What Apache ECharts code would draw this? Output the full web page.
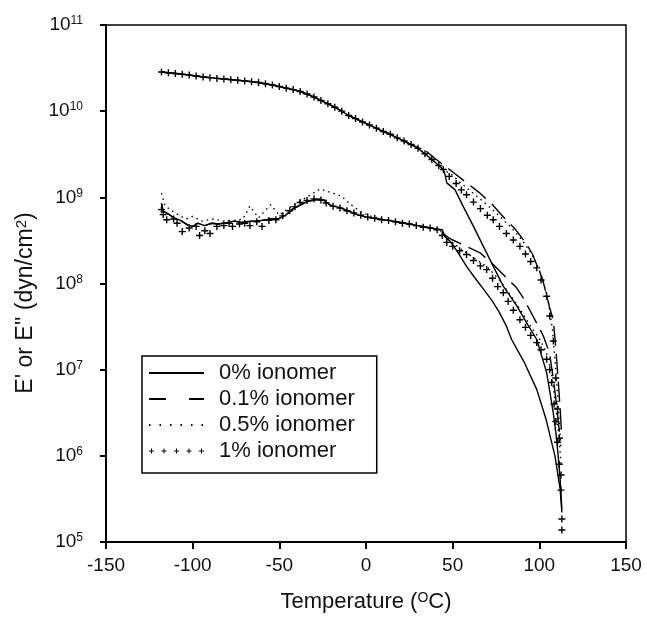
<!DOCTYPE html>
<html>
<head>
<meta charset="utf-8">
<script src="https://cdn.jsdelivr.net/npm/echarts@6/dist/echarts.min.js"></script>
<style>
  html, body { margin: 0; padding: 0; background: #fff; }
  #chart { width: 647px; height: 618px; }
</style>
</head>
<body>
<div id="chart"></div>
<script>
// storage modulus E' (shared part, all four samples overlap below ~45 C)
var storageCommon = [[-118,2.85e10],[-114,2.79e10],[-110,2.74e10],[-106,2.68e10],[-102,2.62e10],[-98,2.56e10],
    [-94,2.50e10],[-90,2.45e10],[-86,2.40e10],[-82,2.36e10],[-78,2.32e10],[-74,2.28e10],[-70,2.24e10],[-66,2.20e10],
    [-62,2.15e10],[-58,2.08e10],[-54,2.01e10],[-50,1.93e10],[-46,1.85e10],[-42,1.78e10],[-38,1.69e10],[-34,1.58e10],
    [-30,1.46e10],[-26,1.33e10],[-22,1.22e10],[-18,1.11e10],[-14,1.0e10],[-10,8.9e9],[-6,8.2e9],[-2,7.5e9],[2,6.9e9],
    [6,6.35e9],[10,5.8e9],[14,5.4e9],[18,4.9e9],[22,4.5e9],[26,4.1e9],[30,3.7e9],[34,3.2e9],[38,2.75e9],[42,2.34e9],[44.6,2.1e9]];

// E' above 45 C
var storageTail0 = [[45.6,1.83e9],[46.6,1.47e9],[51.3,1.23e9],[56,7.9e8],[62,4.6e8],[67.7,2.7e8],[73.4,1.59e8],
    [79.2,9.3e7],[87,5.5e7],[92.7,3.5e7],[98.5,2.24e7],[104.2,9.3e6],[108,3.2e6],[110,1.56e6],[112,5.4e5],[113,2.4e5]];
var storageTail01 = [[30,3.8e9],[35,3.4e9],[40,2.8e9],[45,2.35e9],[51,1.9e9],[57,1.53e9],[65,1.15e9],[73,8.2e8],
    [79,6.0e8],[86,4.3e8],[92,3.0e8],[96,2.2e8],[100,1.4e8],[102,1.1e8],[104,7.5e7],[106,5.2e7],[108,3.8e7],
    [109.5,1.8e7],[111,7e6],[112,3.5e6],[113,1.6e6]];
var storageTail05 = [[50,1.8e9],[55,1.45e9],[60,1.2e9],[66,9.5e8],[72,7.5e8],[78,5.8e8],[84,4.4e8],[90,3.2e8],
    [95,2.3e8],[99,1.6e8],[102,1.1e8],[105,6.5e7],[107.5,3e7],[109.5,1e7],[111,3.5e6],[112.5,1.2e6]];
var storageTail1 = [[48,1.75e9],[52,1.45e9],[55,1.22e9],[58,1.07e9],[62,8.8e8],[66,7.4e8],[70,6.2e8],[73.4,5.5e8],
    [77,4.6e8],[81,3.8e8],[85,3.2e8],[88.8,2.7e8],[92,2.2e8],[95,1.8e8],[98.5,1.52e8],[101,1.1e8],[104.2,7.1e7],
    [106,4.2e7],[108.1,2.15e7],[109.5,8e6],[110.5,3.5e6],[111.5,1.6e6],[112.5,6e5],[113,1.85e5],[113,1.38e5]];

// loss modulus E''
var loss0 = [[-118,8.5e8],[-117,6.9e8],[-114,6.4e8],[-111,5.8e8],[-107,5.4e8],[-103,4.8e8],[-100,4.6e8],[-97,5.0e8],
    [-93,4.7e8],[-89,5.0e8],[-85,4.9e8],[-80,5.1e8],[-76,5.3e8],[-72,5.1e8],[-66,5.3e8],[-60,5.4e8],[-55,5.6e8],
    [-50,5.7e8],[-46,6.3e8],[-42,7.4e8],[-38,8.1e8],[-34,8.9e8],[-30,9.3e8],[-27,9.5e8],[-24,9.2e8],[-21,8.2e8],
    [-19,7.9e8],[-15,7.6e8],[-10,6.9e8],[-5,6.3e8],[0,5.9e8],[5,5.7e8],[10,5.5e8],[15,5.3e8],[20,5.1e8],[25,4.9e8],
    [30,4.7e8],[35,4.5e8],[40,4.3e8],[44,4.2e8],[45.5,3.5e8],[48.5,3.1e8],[53,2.3e8],[58,1.58e8],[63,1.15e8],
    [68,8.5e7],[73,6.2e7],[77,4.6e7],[81,3.2e7],[84,2.24e7],[91,1.25e7],[98.5,5.9e6],[104,2.6e6],[109,1.0e6],
    [112,4.1e5],[113,2.2e5]];
var lossTail01 = [[45,3.7e8],[49.4,3.24e8],[57,2.75e8],[65.8,2.27e8],[73.4,1.66e8],[80,1.22e8],[86.9,8.9e7],
    [90.7,6.8e7],[95,4.7e7],[99.4,3.2e7],[102.3,2.46e7],[105.2,1.7e7],[106.1,1.44e7],[108,8e6],[110,3.8e6],[112,1.55e6]];
var loss05 = [[-118,1.12e9],[-116,8.0e8],[-113,7.2e8],[-108,6.2e8],[-104,5.6e8],[-100,6.0e8],[-95,5.3e8],[-88,5.6e8],
    [-82,5.3e8],[-76,5.4e8],[-71,5.6e8],[-67,7.9e8],[-62,5.8e8],[-55,8.2e8],[-50,6.2e8],[-45,7.4e8],[-40,8.6e8],
    [-35,9.8e8],[-31,1.1e9],[-26.5,1.25e9],[-21,1.15e9],[-14,1.03e9],[-9,8.3e8],[-3.5,6.9e8],[2,6.1e8],[8,5.7e8],
    [15,5.3e8],[22,5.0e8],[30,4.7e8],[38,4.4e8],[44,4.0e8],[48,3.2e8],[55,2.5e8],[62,2.0e8],[70,1.55e8],[77,1.1e8],
    [83,7.5e7],[89,5.0e7],[95,3.2e7],[100,2.3e7],[104,1.6e7],[107,9e6],[109,4.5e6],[111,2e6],[112.5,8e5]];
var loss1 = [[-118,7.2e8],[-117,6.3e8],[-115,5.5e8],[-111,5.6e8],[-109,5.0e8],[-106,4.0e8],[-102,4.4e8],[-98,4.6e8],
    [-96,3.6e8],[-93,4.1e8],[-90,3.8e8],[-86,4.6e8],[-82,4.7e8],[-79,5.0e8],[-77,4.6e8],[-73,4.9e8],[-70,5.0e8],
    [-67,4.7e8],[-63,5.2e8],[-60,4.6e8],[-56,5.4e8],[-52,5.5e8],[-48,6.1e8],[-44,7.0e8],[-41,7.8e8],[-38,8.7e8],
    [-34,9.2e8],[-30,9.6e8],[-26,9.3e8],[-23,8.6e8],[-19,7.9e8],[-15,7.5e8],[-11,7.0e8],[-7,6.6e8],[-3,6.2e8],
    [1,5.9e8],[5,5.7e8],[9,5.5e8],[13,5.4e8],[17,5.2e8],[21,5.0e8],[25,4.9e8],[29,4.7e8],[33,4.5e8],[37,4.4e8],
    [41,4.2e8],[44,3.6e8],[46.6,3.0e8],[50,2.7e8],[54,2.4e8],[58,2.17e8],[62,1.85e8],[66,1.6e8],[69.6,1.45e8],
    [73,1.15e8],[76,9.2e7],[79.2,7.8e7],[82,6.2e7],[85,4.9e7],[88.8,3.8e7],[92,3.1e7],[95,2.5e7],[98.5,2.06e7],
    [101,1.7e7],[104.2,1.32e7],[106,1.0e7],[107.1,7.1e6],[108.5,4e6],[109.5,2.5e6],[110.5,1.44e6],[111.5,8e5],[112.5,4e5]];

var names = ['0% ionomer', '0.1% ionomer', '0.5% ionomer', '1% ionomer'];
var xTicks = [-150, 150, 50];   // min, max, interval

var font = 'Liberation Sans';
var plus = 'path://M2,0h1v2h2v1h-2v2h-1v-2h-2v-1h2z';
var plusRow = 'path://M2,0h1v2h2v1h-2v2h-1v-2h-2v-1h2z M14.5,0h1v2h2v1h-2v2h-1v-2h-2v-1h2z ' +
    'M27,0h1v2h2v1h-2v2h-1v-2h-2v-1h2z M39.5,0h1v2h2v1h-2v2h-1v-2h-2v-1h2z M52,0h1v2h2v1h-2v2h-1v-2h-2v-1h2z';

function curve(name, data, lineType) {
    return {
        name: name, type: 'line', data: data, z: 2,
        symbol: 'none',
        lineStyle: { color: '#000', width: 1.4, type: lineType },
        itemStyle: { color: '#000' }
    };
}
function crosses(name, data) {
    return {
        name: name, type: 'line', data: data, z: 3,
        symbol: plus, symbolSize: 7,
        lineStyle: { opacity: 0 },
        itemStyle: { color: '#000' }
    };
}

var series = [
    curve(names[0], storageCommon.concat(storageTail0), 'solid'),
    curve(names[0], loss0, 'solid'),
    curve(names[1], storageCommon.filter(function(p){ return p[0] < 30; }).concat(storageTail01), [20, 8]),
    curve(names[1], loss0.filter(function(p){ return p[0] < 45; }).concat(lossTail01), [20, 8]),
    curve(names[2], storageCommon.concat(storageTail05), [1.5, 4]),
    curve(names[2], loss05, [1.5, 4]),
    crosses(names[3], storageCommon.concat(storageTail1)),
    crosses(names[3], loss1)
];

var myChart = echarts.init(document.getElementById('chart'));
var option = {
    animation: false,
    backgroundColor: '#fff',
    textStyle: { fontFamily: font, color: '#111' },
    grid: {
        left: 106, right: 21, top: 25, bottom: 75,
        show: true, borderColor: '#000', borderWidth: 1.5
    },
    legend: {
        orient: 'vertical',
        left: 142, top: 356,
        padding: [6, 22, 11, 6],
        itemGap: 4,
        itemWidth: 55, itemHeight: 8,
        borderColor: '#000', borderWidth: 1.5,
        textStyle: { fontSize: 22, fontFamily: font, color: '#111', padding: [0, 0, 0, 10] },
        data: [
            { name: names[0], itemStyle: { opacity: 0 } },
            { name: names[1], itemStyle: { opacity: 0 }, lineStyle: { type: [17, 23] } },
            { name: names[2], itemStyle: { opacity: 0 }, lineStyle: { type: [1.5, 9] } },
            { name: names[3], icon: plusRow }
        ]
    },
    xAxis: {
        type: 'value',
        min: xTicks[0], max: xTicks[1], interval: xTicks[2],
        name: 'Temperature ({s|O}C)',
        nameLocation: 'middle',
        nameGap: 49,
        nameTextStyle: {
            fontSize: 22, fontFamily: font, color: '#111',
            rich: { s: { fontSize: 14, fontFamily: font, color: '#111', verticalAlign: 'top' } }
        },
        axisLine: { onZero: false, lineStyle: { color: '#000', width: 2 } },
        axisTick: { inside: false, length: 7, lineStyle: { color: '#000', width: 2 } },
        axisLabel: { fontSize: 19, fontFamily: font, color: '#111', margin: 14 },
        splitLine: { show: false }
    },
    yAxis: {
        type: 'log', logBase: 10,
        min: 1e5, max: 1e11,
        name: "E' or E'' (dyn/cm{s|2})",
        nameLocation: 'middle',
        nameGap: 67,
        nameRotate: 90,
        nameTextStyle: {
            fontSize: 23, fontFamily: font, color: '#111',
            padding: [0, 39, 0, 0],
            rich: { s: { fontSize: 15, fontFamily: font, color: '#111', verticalAlign: 'top' } }
        },
        axisLine: { show: true, onZero: false, lineStyle: { color: '#000', width: 2 } },
        axisTick: { show: true, inside: false, length: 6, lineStyle: { color: '#000', width: 2 } },
        axisLabel: {
            margin: 23,
            formatter: function(v){
                return '{b|10}{s|' + Math.round(Math.log10(v)) + '}';
            },
            rich: {
                b: { fontSize: 19, fontFamily: font, color: '#111', lineHeight: 20 },
                s: { fontSize: 12, fontFamily: font, color: '#111', verticalAlign: 'top', lineHeight: 20 }
            }
        },
        splitLine: { show: false }
    },
    series: series
};
myChart.setOption(option);
</script>
</body>
</html>
